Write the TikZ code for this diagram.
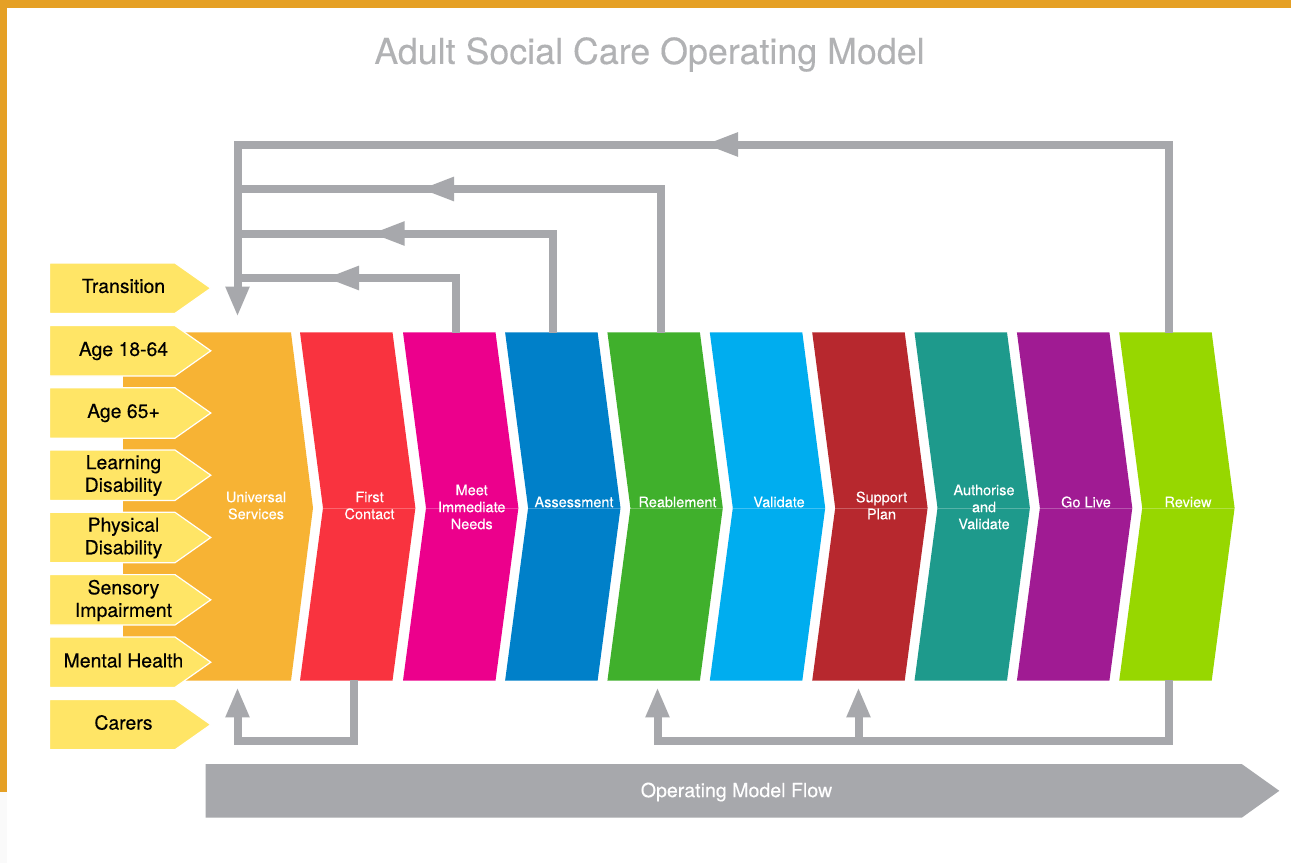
\documentclass[tikz,border=0pt]{standalone}
\usepackage{fontspec}
\setmainfont{TeX Gyre Heros}
\newfontfamily\heavyfont[FakeBold=0.25]{TeX Gyre Heros}
\newfontfamily\midfont[FakeBold=0.12]{TeX Gyre Heros}
\usetikzlibrary{arrows.meta}
\definecolor{barorange}{HTML}{E5A025}
\definecolor{titlegrey}{HTML}{B1B2B4}
\definecolor{flowgrey}{HTML}{A7A8AC}
\definecolor{tagyellow}{HTML}{FFE566}
\definecolor{cUniv}{HTML}{F7B334}
\definecolor{cFirst}{HTML}{F9333F}
\definecolor{cMeet}{HTML}{EC008C}
\definecolor{cAssess}{HTML}{0080C9}
\definecolor{cReab}{HTML}{40B02C}
\definecolor{cValid}{HTML}{00ADEF}
\definecolor{cSupport}{HTML}{B7282E}
\definecolor{cAuth}{HTML}{1E9A8C}
\definecolor{cLive}{HTML}{A01B93}
\definecolor{cReview}{HTML}{97D700}
\tikzset{
  x=1pt,y=-1pt,
  taglabel/.style={text=black,align=center,inner sep=0pt,font=\heavyfont\fontsize{19.4}{22.6}\selectfont},
  stagelabel/.style={text=white,align=center,inner sep=0pt,font=\midfont\fontsize{14.5}{17}\selectfont},
  flow/.style={draw=flowgrey,line width=8pt,line join=miter,line cap=butt},
  tipped/.style={flow,-{Triangle[length=30pt,width=22pt]}},
  midtip/.style={flow,-{Triangle[length=34pt,width=22pt]}},
}
\newcommand{\tagshape}[2]{% y-top, outline
  \fill[tagyellow,draw=#2,line width=1.2pt,line join=miter] (49.5,#1) -- (175,#1) -- (210.8,#1+25.2) -- (175,#1+50.4) -- (49.5,#1+50.4) -- cycle;}
\newcommand{\stageshape}[2]{% left x, colour
  \fill[#2] (#1,332.3) -- (#1+92.5,332.3) -- (#1+115.4,508) -- (#1+92.5,680.7) -- (#1,680.7) -- (#1+23,508) -- cycle;
  \draw[white,opacity=.25,line width=.6pt] (#1+23,508) -- (#1+115.4,508);}
\begin{document}
\begin{tikzpicture}
\useasboundingbox (0,0) rectangle (1291,863);
\fill[white] (0,0) rectangle (1291,863);
\fill[barorange] (0,0) rectangle (1291,8);
\fill[barorange] (0,0) rectangle (7,792);
\fill[black!2] (0,792) rectangle (7,863);

\node[text=titlegrey,inner sep=0pt,font=\midfont\fontsize{35.8}{40}\selectfont] (title) at (649.5,54.5) {Adult Social Care Operating Model};

% Universal services shape
\fill[cUniv] (123,332.3) -- (291,332.3) -- (313,508) -- (291,680.7) -- (123,680.7) -- cycle;
\stageshape{300}{cFirst}
\stageshape{403}{cMeet}
\stageshape{505.1}{cAssess}
\stageshape{607.4}{cReab}
\stageshape{709.8}{cValid}
\stageshape{812.2}{cSupport}
\stageshape{914.5}{cAuth}
\stageshape{1016.9}{cLive}
\stageshape{1119.2}{cReview}

% Tags
\fill[white] (50,376) rectangle (123,387);
\fill[white] (50,438) rectangle (123,450);
\fill[white] (50,500) rectangle (123,512);
\fill[white] (50,563) rectangle (123,574);
\fill[white] (50,625) rectangle (123,637);
\fill[white] (123,320) rectangle (190,332.3);
\fill[white] (123,680.7) rectangle (190,690);
\tagshape{263}{white}
\tagshape{325.6}{white}
\tagshape{387.8}{white}
\tagshape{450}{white}
\tagshape{512.3}{white}
\tagshape{574.6}{white}
\tagshape{637}{white}
\tagshape{699.4}{white}

\node[taglabel] (transition) at (123.5,286) {Transition};
\node[taglabel] (age1864) at (123.5,351) {Age 18-64};
\node[taglabel] (age65) at (123.5,413) {Age 65+};
\node[taglabel] (learning) at (123.5,475.5) {Learning\\Disability};
\node[taglabel] (physical) at (123.5,538) {Physical\\Disability};
\node[taglabel] (sensory) at (123.5,600.5) {Sensory\\Impairment};
\node[taglabel] (mental) at (123.5,660.5) {Mental Health};
\node[taglabel] (carers) at (123.5,722.5) {Carers};

% Stage labels
\node[stagelabel] (universal) at (256,505.5) {Universal\\Services};
\node[stagelabel] (first) at (369.5,505.5) {First\\Contact};
\node[stagelabel] (meet) at (471.7,507) {Meet\\Immediate\\Needs};
\node[stagelabel] (assessment) at (574,502) {Assessment};
\node[stagelabel] (reablement) at (677.5,502) {Reablement};
\node[stagelabel] (validate) at (779,502) {Validate};
\node[stagelabel] (support) at (881.5,505.5) {Support\\Plan};
\node[stagelabel] (authorise) at (984,507) {Authorise\\and\\Validate};
\node[stagelabel] (golive) at (1086,502) {Go Live};
\node[stagelabel] (review) at (1188,502) {Review};

% Connector anchors
\coordinate (meetTop) at (456,333);
\coordinate (assessTop) at (553,333);
\coordinate (reabTop) at (661,333);
\coordinate (reviewTop) at (1169.3,333);
\coordinate (firstBot) at (354,680);
\coordinate (reviewBot) at (1169.3,680);
\coordinate (univIn) at (237.5,316.7);
\coordinate (univBack) at (237.5,687.3);
\coordinate (reabIn) at (657.5,687.3);
\coordinate (supportIn) at (858.5,687.3);
\coordinate (topCorner) at (237.5,144.5);
\coordinate (tipA) at (325,278);
\coordinate (tipB) at (370.7,233.5);
\coordinate (tipC) at (420,189);
\coordinate (tipD) at (704,144.5);
\coordinate (baseA) at (345,278);
\coordinate (baseB) at (390.7,233.5);
\coordinate (baseC) at (440,189);
\coordinate (baseD) at (724,144.5);
\coordinate (joinA) at (237.5,278);
\coordinate (joinB) at (237.5,233.5);
\coordinate (joinC) at (237.5,189);
\coordinate (bottomFirst) at (237.5,741.3);
\coordinate (bottomSupport) at (858.5,741.3);

% Feedback connectors above
\draw[midtip] (reviewTop) |- (tipD);
\draw[tipped] (baseD) -- (topCorner) -- (univIn);
\draw[midtip] (reabTop) |- (tipC);
\draw[flow] (baseC) -- (joinC);
\draw[midtip] (assessTop) |- (tipB);
\draw[flow] (baseB) -- (joinB);
\draw[midtip] (meetTop) |- (tipA);
\draw[flow] (baseA) -- (joinA);

% Feedback connectors below
\draw[tipped] (firstBot) |- (bottomFirst) -- (univBack);
\draw[tipped] (reviewBot) |- (bottomSupport) -| (reabIn);
\draw[tipped] (bottomSupport) -- (supportIn);

% Flow bar
\fill[flowgrey] (205.7,764) -- (1241.7,764) -- (1279.3,790.8) -- (1241.7,817.7) -- (205.7,817.7) -- cycle;
\node[text=white,inner sep=0pt,font=\midfont\fontsize{19.6}{22}\selectfont] (flowlabel) at (736.5,792) {Operating Model Flow};
\end{tikzpicture}
\end{document}
